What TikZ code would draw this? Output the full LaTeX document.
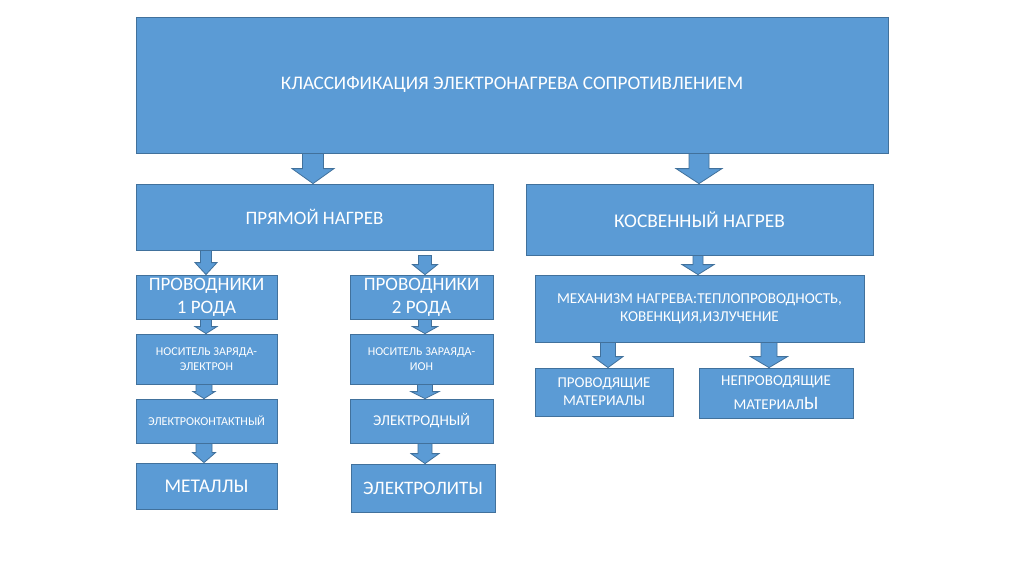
\documentclass[tikz,border=0pt]{standalone}
\usepackage{fontspec}
\setmainfont{Carlito}
\usetikzlibrary{calc}
\definecolor{boxfill}{HTML}{5B9BD5}
\definecolor{boxline}{HTML}{41719C}
\newcommand\fs[2]{\fontsize{#1}{#2}\selectfont}
% block arrow: #1 x, #2 from node, #3 to node, #4 shaft half width, #5 head half width, #6 head length, #7 start gap
\newcommand\barr[7]{%
  \path let \p1=(#2.south), \p2=(#3.north) in
    [arrowshape] (#1pt-#4pt,\y1-#7pt) -- (#1pt+#4pt,\y1-#7pt) -- (#1pt+#4pt,\y2+#6pt)
    -- (#1pt+#5pt,\y2+#6pt) -- (#1pt,\y2) -- (#1pt-#5pt,\y2+#6pt) -- (#1pt-#4pt,\y2+#6pt) -- cycle;}
% box: #1 name, #2 x1, #3 y1, #4 x2, #5 y2, #6 font size, #7 line height, #8 text
\newcommand\bx[8]{\node[box,font=\fs{#6}{#7},minimum width=#4-#2,minimum height=#5-#3] (#1) at ({(#2+#4)/2},{(#3+#5)/2}) {#8};}
\begin{document}
\begin{tikzpicture}[x=1pt,y=-1pt,
  box/.style={draw=boxline,line width=0.8pt,fill=boxfill,text=white,align=center,inner sep=0pt},
  arrowshape/.style={draw=boxline,line width=0.8pt,fill=boxfill}]
\useasboundingbox (0,0) rectangle (1024,574);
\fill[white] (0,0) rectangle (1024,574);
\bx{top}{136}{17}{888}{153}{19.2}{22}{КЛАССИФИКАЦИЯ ЭЛЕКТРОНАГРЕВА СОПРОТИВЛЕНИЕМ}
\bx{pr}{136}{184}{493}{250}{19}{22}{ПРЯМОЙ НАГРЕВ}
\bx{ks}{526}{184}{873}{255}{19.4}{22}{КОСВЕННЫЙ НАГРЕВ}
\bx{p1}{136}{275}{277}{319}{19}{23}{ПРОВОДНИКИ\\1 РОДА}
\bx{p2}{350}{275}{493}{319}{19}{23}{ПРОВОДНИКИ\\2 РОДА}
\bx{n1}{136}{334}{277}{384}{12}{14.5}{НОСИТЕЛЬ ЗАРЯДА-\\ЭЛЕКТРОН}
\bx{n2}{350}{334}{493}{384}{12}{14.5}{НОСИТЕЛЬ ЗАРАЯДА-\\ИОН}
\bx{e1}{136}{399}{277}{443}{12.1}{15}{ЭЛЕКТРОКОНТАКТНЫЙ}
\bx{e2}{350}{399}{493}{443}{15}{17}{ЭЛЕКТРОДНЫЙ}
\bx{m1}{136}{463}{277}{509}{19.4}{22}{МЕТАЛЛЫ}
\bx{m2}{351}{464}{495}{512}{19}{22}{ЭЛЕКТРОЛИТЫ}
\bx{mh}{535}{275}{864}{342}{15.1}{18}{МЕХАНИЗМ НАГРЕВА:ТЕПЛОПРОВОДНОСТЬ,\\КОВЕНКЦИЯ,ИЗЛУЧЕНИЕ}
\bx{pm}{535}{368}{673}{416}{15}{18}{ПРОВОДЯЩИЕ\\МАТЕРИАЛЫ}
\bx{nm}{699}{368}{853}{418}{15}{24}{НЕПРОВОДЯЩИЕ\\МАТЕРИАЛ{\fs{19}{24}Ы}}
% block arrows
\barr{313}{top}{pr}{10.5}{21}{15}{0}
\barr{699}{top}{ks}{10}{23}{15}{0}
\barr{206}{pr}{p1}{5.5}{11}{12}{0}
\barr{425}{pr}{p2}{6.5}{12.5}{10}{5}
\barr{206}{p1}{n1}{5.5}{11}{7}{0}
\barr{425}{p2}{n2}{6.5}{12.5}{7}{0}
\barr{204}{n1}{e1}{8}{11}{7}{0}
\barr{425}{n2}{e2}{7.5}{14}{7}{0}
\barr{204}{e1}{m1}{8}{11.5}{10}{0}
\barr{425}{e2}{m2}{7}{14}{10}{0}
\barr{698}{ks}{mh}{5}{16}{10}{0}
\barr{608}{mh}{pm}{7.5}{15}{11}{0}
\barr{769}{mh}{nm}{8}{18.5}{11}{0}
\end{tikzpicture}
\end{document}
